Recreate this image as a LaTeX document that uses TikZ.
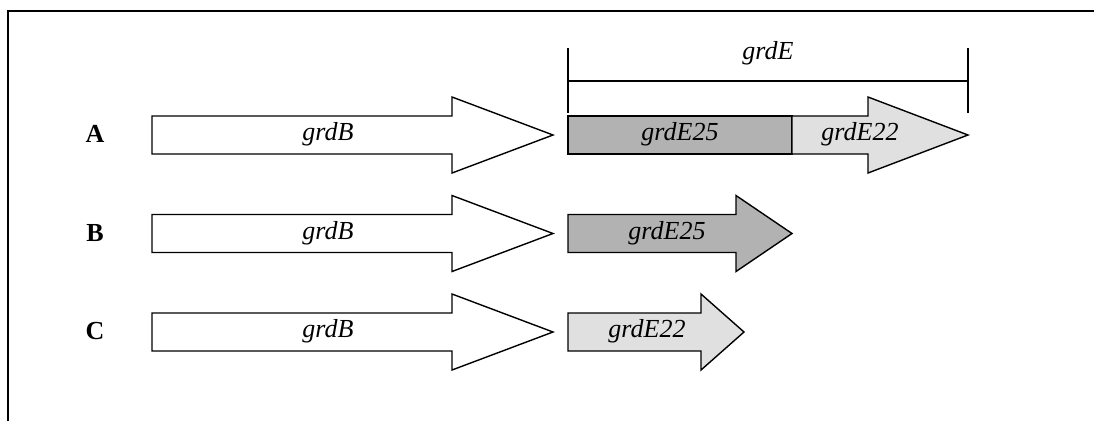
\documentclass[tikz,border=0pt]{standalone}
\usepackage{fontspec}
\setmainfont{Liberation Serif}
\usepackage{tikz}
\usetikzlibrary{positioning,calc}
\definecolor{darkgene}{gray}{0.70}
\definecolor{lightgene}{gray}{0.88}
% block arrow: style, left x, head start x, tip x, mid y
\newcommand{\genearrow}[5]{\draw[#1]
  (#2,#5-19) -- (#3,#5-19) -- (#3,#5-38) -- (#4,#5)
  -- (#3,#5+38) -- (#3,#5+19) -- (#2,#5+19) -- cycle}

\begin{document}
\begin{tikzpicture}[
  x=1pt,y=-1pt,
  gene/.style={line width=1.4pt,line join=miter},
  lbl/.style={font=\fontsize{26}{31}\selectfont\itshape,inner sep=0pt},
  row/.style={font=\fontsize{26}{31}\selectfont\bfseries,inner sep=0pt}
  ]
  \useasboundingbox (0,0) rectangle (1094,421);
  \draw[line width=2pt] (8,421) -- (8,11) -- (1094,11);

  % row A
  \genearrow{gene,fill=white}{152}{452}{553}{135};
  \draw[gene,fill=darkgene] (568,116) rectangle (792,154);
  \draw[gene,fill=lightgene] (792,116) -- (868,116) -- (868,97) -- (968,135)
    -- (868,173) -- (868,154) -- (792,154) -- cycle;
  \node[row] (A) at (95,134) {A};
  \node[lbl] (gBa) at (328,134) {grdB};
  \node[lbl] (g25a) at (680,134) {grdE25};
  \node[lbl] (g22a) at (860,134) {grdE22};

  % span of grdE
  \coordinate (Eleft) at (568,81);
  \coordinate (Eright) at (968,81);
  \draw[line width=1.4pt] (Eleft) -- (Eright);
  \draw[line width=1.4pt] ($(Eleft)+(0,-33)$) -- ($(Eleft)+(0,32)$);
  \draw[line width=1.4pt] ($(Eright)+(0,-33)$) -- ($(Eright)+(0,32)$);
  \node[lbl] (gE) [above=16pt of $(Eleft)!0.5!(Eright)$] {grdE};

  % row B
  \genearrow{gene,fill=white}{152}{452}{553}{233.5};
  \genearrow{gene,fill=darkgene}{568}{736}{792}{233.5};
  \node[row] (B) at (95,233) {B};
  \node[lbl] (gBb) at (328,233) {grdB};
  \node[lbl] (g25b) at (667,233) {grdE25};

  % row C
  \genearrow{gene,fill=white}{152}{452}{553}{332};
  \genearrow{gene,fill=lightgene}{568}{701}{744}{332};
  \node[row] (C) at (95,331) {C};
  \node[lbl] (gBc) at (328,331) {grdB};
  \node[lbl] (g22c) at (647,331) {grdE22};
\end{tikzpicture}
\end{document}
